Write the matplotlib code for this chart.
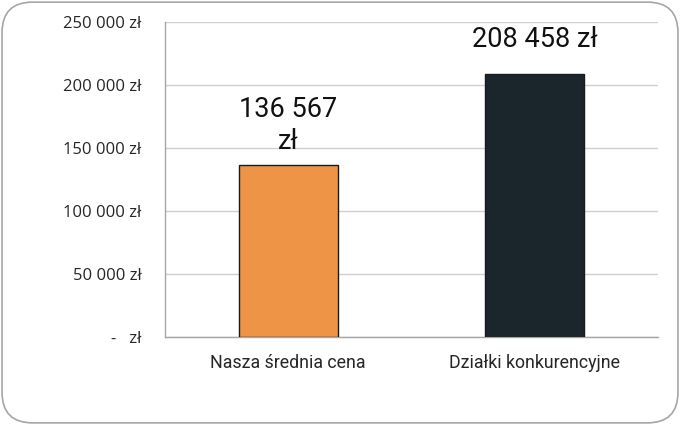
import matplotlib
matplotlib.use("Agg")
import matplotlib.pyplot as plt
from matplotlib.patches import FancyBboxPatch

categories = ["Nasza średnia cena", "Działki konkurencyjne"]
values = [136567, 208458]
value_labels = ["136 567\nzł", "208 458 zł"]
bar_colors = ["#ED9446", "#1B262C"]
yticks = [0, 50000, 100000, 150000, 200000, 250000]
ytick_labels = ["-   zł", "50 000 zł", "100 000 zł", "150 000 zł", "200 000 zł", "250 000 zł"]

fig = plt.figure(figsize=(6.8, 4.25), dpi=100)
ax = fig.add_axes([165 / 680, (425 - 337) / 425, 493 / 680, 315 / 425])

# rounded frame around the whole chart
frame = FancyBboxPatch((0.003, 0.005), 0.994, 0.99, boxstyle="round,pad=0,rounding_size=0.045",
                       transform=fig.transFigure, facecolor="white", edgecolor="#a6a6a6",
                       linewidth=1.2, mutation_aspect=680 / 425, zorder=-10)
fig.patches.append(frame)
ax.set_facecolor("none")

x = range(len(categories))
bars = ax.bar(x, values, width=0.4, color=bar_colors, edgecolor="#1a1a1a", linewidth=1, zorder=3)

ax.set_xlim(-0.5, 1.5)
ax.set_ylim(0, 250000)
ax.set_yticks(yticks)
ax.set_yticklabels(ytick_labels, fontfamily="Open Sans", fontsize=12, color="#262626")
ax.set_xticks(list(x))
ax.set_xticklabels(categories, fontfamily="Roboto", fontsize=12.8, color="#262626")
ax.tick_params(axis="y", length=0, pad=17)
ax.tick_params(axis="x", length=0, pad=12)
ax.yaxis.grid(True, color="#d0d0d0", linewidth=1, zorder=0)

for s in ["top", "right"]:
    ax.spines[s].set_visible(False)
for s in ["left", "bottom"]:
    ax.spines[s].set_color("#a6a6a6")
    ax.spines[s].set_linewidth(1)

for b, lab in zip(bars, value_labels):
    # wrapped label sits closer to its bar
    off = 7.5 if "\n" in lab else 15.5
    ax.annotate(lab, (b.get_x() + b.get_width() / 2, b.get_height()), xytext=(0, off),
                textcoords="offset points", ha="center", va="bottom",
                fontfamily="Roboto", fontsize=19.5, color="#111111", linespacing=1.2)

fig.savefig("out.png", dpi=100)
